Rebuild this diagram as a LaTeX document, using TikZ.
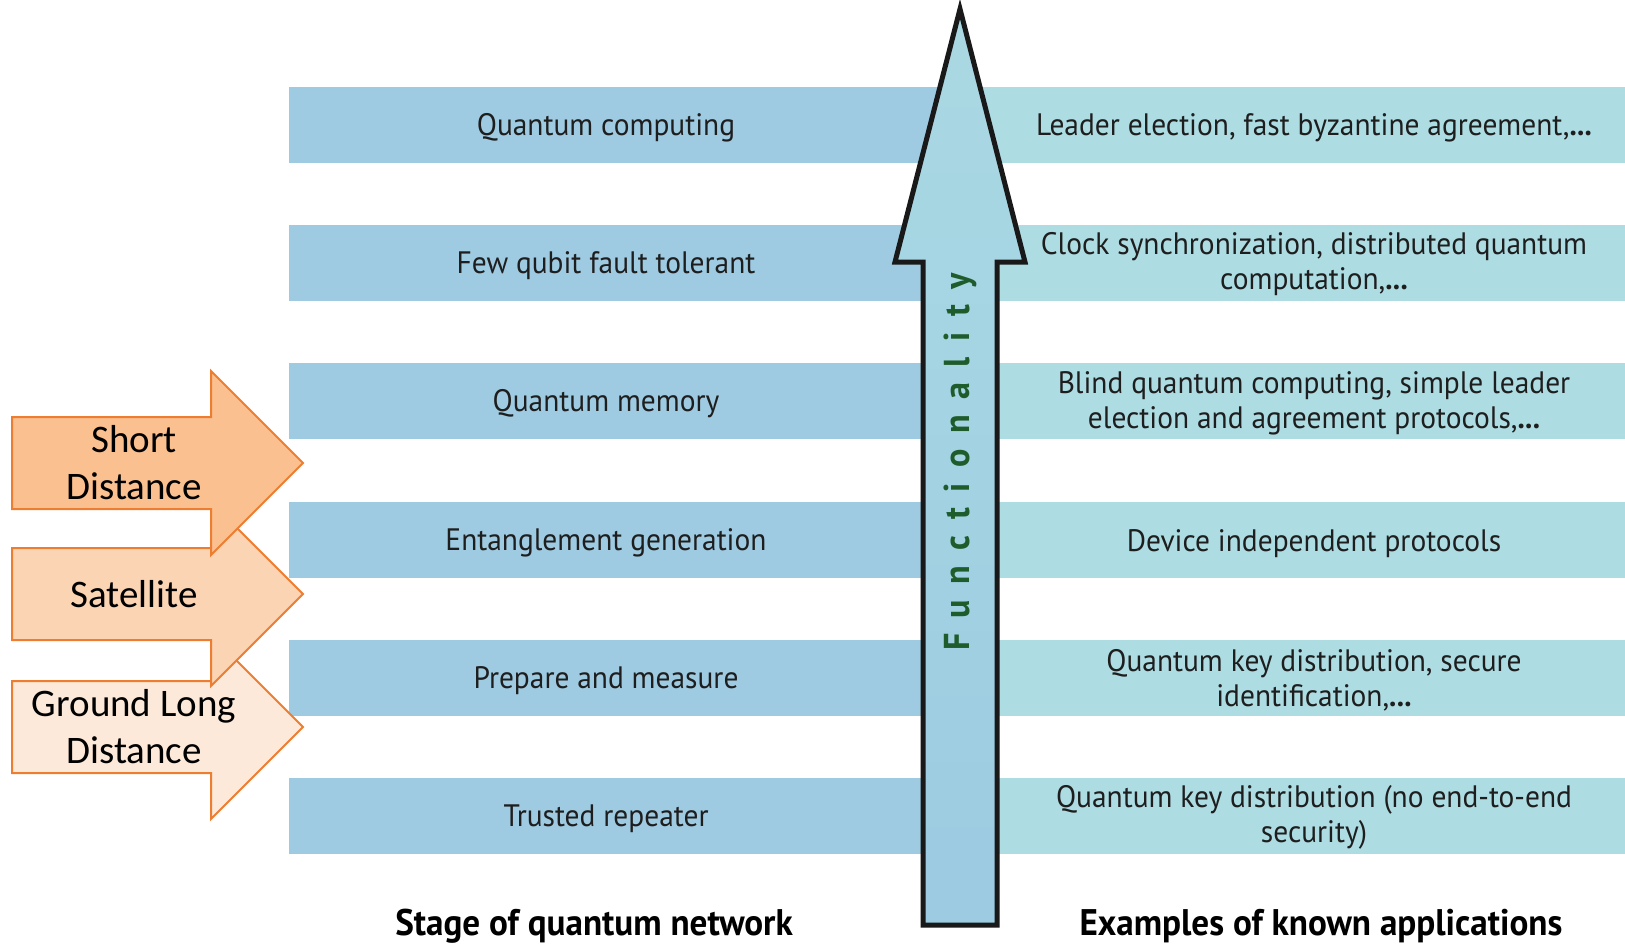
\documentclass[tikz,border=0pt]{standalone}
\usepackage{fontspec}
\setmainfont{Carlito}
\newfontfamily\bandfont[FakeStretch=0.95]{PT Sans}
\usetikzlibrary{calc}

\definecolor{bandL}{HTML}{9ECBE2}
\definecolor{bandR}{HTML}{ADDCE3}
\definecolor{shaftTop}{HTML}{AAD9E3}
\definecolor{shaftBot}{HTML}{9CCBE2}
\definecolor{inkgray}{HTML}{1E1E1E}
\definecolor{funcgreen}{HTML}{1F5C2C}
\definecolor{edgeorange}{HTML}{ED7D31}
\definecolor{reachA}{HTML}{FAC08F}
\definecolor{reachB}{HTML}{FBD4B4}
\definecolor{reachC}{HTML}{FDE9D9}

\newcommand\letgap{\kern15.5pt}

\begin{document}
\begin{tikzpicture}[x=1pt,y=-1pt,
  lband/.style={fill=bandL, draw=none, inner sep=0pt, anchor=north west,
    minimum width=675pt, minimum height=76pt},
  rband/.style={fill=bandR, draw=none, inner sep=0pt, anchor=north west,
    minimum width=665pt, minimum height=76pt},
  stagetext/.style={text=inkgray, inner sep=0pt,
    font=\bandfont\fontsize{31}{35}\selectfont},
  apptext/.style={text=inkgray, inner sep=0pt, align=center,
    font=\bandfont\fontsize{31}{35}\selectfont},
  caption/.style={text=black, inner sep=0pt, anchor=base,
    font=\bandfont\bfseries\fontsize{37}{42}\selectfont},
  reach/.style={draw=edgeorange, line width=2pt, line join=miter},
  reachtext/.style={text=black, inner sep=0pt, align=center,
    font=\fontsize{39}{47}\selectfont},
  shaft/.style={draw=black!90, line width=5pt, line join=miter,
    top color=shaftTop, bottom color=shaftBot}]
\useasboundingbox (0,0) rectangle (1625,944);

% horizontal stage bands (left) and application bands (right)
\node[lband] (b1) at (289,87)  {};
\node[lband] (b2) at (289,225) {};
\node[lband] (b3) at (289,363) {};
\node[lband] (b4) at (289,502) {};
\node[lband] (b5) at (289,640) {};
\node[lband] (b6) at (289,778) {};
\node[rband] (r1) at (960,87)  {};
\node[rband] (r2) at (960,225) {};
\node[rband] (r3) at (960,363) {};
\node[rband] (r4) at (960,502) {};
\node[rband] (r5) at (960,640) {};
\node[rband] (r6) at (960,778) {};

% stage names
\node[stagetext] (s1) at (606,128) {Quantum computing};
\node[stagetext] (s2) at (606,266) {Few qubit fault tolerant};
\node[stagetext] (s3) at (606,404) {Quantum memory};
\node[stagetext] (s4) at (606,543) {Entanglement generation};
\node[stagetext] (s5) at (606,681) {Prepare and measure};
\node[stagetext] (s6) at (606,819) {Trusted repeater};

% applications
\node[apptext] (a1) at (1314,128) {Leader election, fast byzantine agreement,\textbf{...}};
\node[apptext] (a2) at (1314,264) {Clock synchronization, distributed quantum\\computation,\textbf{...}};
\node[apptext] (a3) at (1314,403) {Blind quantum computing, simple leader\\election and agreement protocols,\textbf{...}};
\node[apptext] (a4) at (1314,544) {Device independent protocols};
\node[apptext] (a5) at (1314,680) {Quantum key distribution, secure\\identification,\textbf{...}};
\node[apptext] (a6) at (1314,817) {Quantum key distribution (no end-to-end\\security)};

% functionality arrow
\coordinate (tip) at (960,9);
\path[shaft] (tip) -- (1025,262) -- (997,262) -- (997,925) -- (923,925)
  -- (923,262) -- (895,262) -- cycle;
\node[rotate=90, text=funcgreen, inner sep=0pt,
  font=\bandfont\bfseries\fontsize{36}{36}\selectfont] (func) at (960,462)
  {F\letgap u\letgap n\letgap c\letgap t\letgap i\letgap o\letgap n\letgap a\letgap l\letgap i\letgap t\letgap y};

% distance-range arrows, drawn bottom first so each overlaps the one below
\path[reach, fill=reachC] (12,681) -- (211,681) -- (211,635) -- (303,727)
  -- (211,819) -- (211,773) -- (12,773) -- cycle;
\path[reach, fill=reachB] (12,548) -- (211,548) -- (211,502) -- (303,594)
  -- (211,686) -- (211,640) -- (12,640) -- cycle;
\path[reach, fill=reachA] (12,417) -- (211,417) -- (211,371) -- (303,463)
  -- (211,555) -- (211,509) -- (12,509) -- cycle;
\node[reachtext] (d1) at (134,463) {Short\\Distance};
\node[reachtext] (d2) at (134,594) {Satellite};
\node[reachtext] (d3) at (134,727) {Ground Long\\Distance};

% column captions
\node[caption] (c1) at (594,935) {Stage of quantum network};
\node[caption] (c2) at (1321,935) {Examples of known applications};
\end{tikzpicture}
\end{document}
